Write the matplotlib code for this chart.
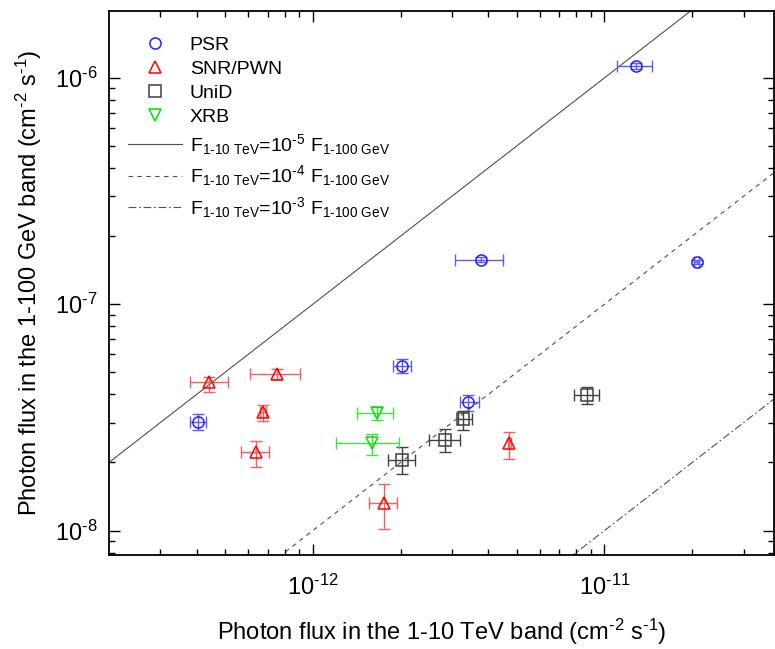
import numpy as np
import matplotlib
matplotlib.use("Agg")
import matplotlib.pyplot as plt
from matplotlib.ticker import FixedLocator, NullFormatter

plt.rcParams["font.family"] = ["Liberation Sans", "DejaVu Sans"]
plt.rcParams["mathtext.fontset"] = "custom"
plt.rcParams["mathtext.rm"] = "Liberation Sans"
plt.rcParams["mathtext.it"] = "Liberation Sans:italic"
plt.rcParams["mathtext.bf"] = "Liberation Sans:bold"
plt.rcParams["axes.unicode_minus"] = False

# ---- data: (TeV flux, TeV low, TeV high, GeV flux, GeV low, GeV high) ----
psr_x = [1.28e-11, 3.775e-12, 2.07e-11, 2.02e-12, 3.40e-12, 4.05e-13]
psr_xlo = [1.106e-11, 3.07e-12, 2.03e-11, 1.88e-12, 3.20e-12, 3.80e-13]
psr_xhi = [1.452e-11, 4.50e-12, 2.11e-11, 2.17e-12, 3.72e-12, 4.31e-13]
psr_y = [1.127e-6, 1.575e-7, 1.537e-7, 5.32e-8, 3.70e-8, 3.02e-8]
psr_ylo = [1.09e-6, 1.54e-7, 1.50e-7, 4.97e-8, 3.38e-8, 2.78e-8]
psr_yhi = [1.165e-6, 1.61e-7, 1.575e-7, 5.70e-8, 3.96e-8, 3.26e-8]

snr_x = [4.42e-13, 7.56e-13, 6.76e-13, 6.38e-13, 1.755e-12, 4.72e-12]
snr_xlo = [3.80e-13, 6.07e-13, 6.60e-13, 5.67e-13, 1.563e-12, 4.66e-12]
snr_xhi = [5.10e-13, 9.05e-13, 6.92e-13, 7.10e-13, 1.94e-12, 4.78e-12]
snr_y = [4.54e-8, 4.94e-8, 3.35e-8, 2.23e-8, 1.318e-8, 2.43e-8]
snr_ylo = [4.10e-8, 4.65e-8, 3.04e-8, 1.91e-8, 1.02e-8, 2.07e-8]
snr_yhi = [4.78e-8, 5.20e-8, 3.58e-8, 2.49e-8, 1.60e-8, 2.73e-8]

unid_x = [2.02e-12, 2.85e-12, 3.28e-12, 8.69e-12]
unid_xlo = [1.81e-12, 2.51e-12, 3.155e-12, 7.86e-12]
unid_xhi = [2.24e-12, 3.20e-12, 3.51e-12, 9.60e-12]
unid_y = [2.05e-8, 2.51e-8, 3.10e-8, 3.96e-8]
unid_ylo = [1.776e-8, 2.22e-8, 2.78e-8, 3.64e-8]
unid_yhi = [2.33e-8, 2.80e-8, 3.38e-8, 4.29e-8]

xrb_x = [1.657e-12, 1.593e-12]
xrb_xlo = [1.415e-12, 1.199e-12]
xrb_xhi = [1.89e-12, 1.98e-12]
xrb_y = [3.31e-8, 2.43e-8]
xrb_ylo = [3.07e-8, 2.155e-8]
xrb_yhi = [3.52e-8, 2.67e-8]

ratios = [1e-5, 1e-4, 1e-3]
ratio_exp = ["-5", "-4", "-3"]
ratio_ls = ["-", (0, (4, 4)), (0, (7, 2.5, 1.5, 2.5))]

XLIM = (2.0e-13, 3.81e-11)
YLIM = (7.8e-9, 1.97e-6)
XMAJOR = [1e-12, 1e-11]
YMAJOR = [1e-8, 1e-7, 1e-6]

fig = plt.figure(figsize=(7.75, 6.49), dpi=100)
ax = fig.add_axes([0.1406, 0.1448, 0.858, 0.838])


def plot_group(x, xlo, xhi, y, ylo, yhi, marker, col, ecol, label):
    x, y = np.array(x), np.array(y)
    xerr = np.vstack([x - np.array(xlo), np.array(xhi) - x])
    yerr = np.vstack([y - np.array(ylo), np.array(yhi) - y])
    ax.errorbar(x, y, xerr=xerr, yerr=yerr, fmt="none", ecolor=ecol,
                elinewidth=1.0, capsize=4.5, capthick=1.0, zorder=3)
    ax.plot(x, y, ls="none", marker=marker, ms=8, mfc="none", mec=col,
            mew=1.1, zorder=4, label=label)


plot_group(psr_x, psr_xlo, psr_xhi, psr_y, psr_ylo, psr_yhi,
           "o", "#2020ff", "#5a5aff", "PSR")
plot_group(snr_x, snr_xlo, snr_xhi, snr_y, snr_ylo, snr_yhi,
           "^", "#ff0000", "#ff5a5a", "SNR/PWN")
plot_group(unid_x, unid_xlo, unid_xhi, unid_y, unid_ylo, unid_yhi,
           "s", "#404040", "#404040", "UniD")
plot_group(xrb_x, xrb_xlo, xrb_xhi, xrb_y, xrb_ylo, xrb_yhi,
           "v", "#00e000", "#40e040", "XRB")

xx = np.array([XLIM[0], XLIM[1]])
for r, e, ls in zip(ratios, ratio_exp, ratio_ls):
    lab = (r"F$_{\text{1-10 TeV}}$=10$^{\text{%s}}$ F$_{\text{1-100 GeV}}$" % e)
    ax.plot(xx, xx / r, color="#505050", lw=0.8, ls=ls, zorder=2, label=lab)

ax.set_xscale("log")
ax.set_yscale("log")
ax.set_xlim(*XLIM)
ax.set_ylim(*YLIM)
ax.xaxis.set_major_locator(FixedLocator(XMAJOR))
ax.yaxis.set_major_locator(FixedLocator(YMAJOR))
ax.set_xticklabels([r"10$^{\text{-12}}$", r"10$^{\text{-11}}$"])
ax.set_yticklabels([r"10$^{\text{-8}}$", r"10$^{\text{-7}}$", r"10$^{\text{-6}}$"])
xminor = [m * 10.0 ** d for d in (-13, -12, -11) for m in range(2, 10)]
yminor = [m * 10.0 ** d for d in (-9, -8, -7, -6) for m in range(2, 10)]
ax.xaxis.set_minor_locator(FixedLocator([v for v in xminor if XLIM[0] < v < XLIM[1]]))
ax.yaxis.set_minor_locator(FixedLocator([v for v in yminor if YLIM[0] < v < YLIM[1]]))
ax.xaxis.set_minor_formatter(NullFormatter())
ax.yaxis.set_minor_formatter(NullFormatter())
ax.tick_params(which="both", direction="in", top=True, right=True,
               labelsize=17, width=1.0)
ax.tick_params(axis="x", pad=14)
ax.tick_params(axis="y", pad=8)
ax.tick_params(which="major", length=8)
ax.tick_params(which="minor", length=4)
for s in ax.spines.values():
    s.set_linewidth(1.3)

ax.set_xlabel(r"Photon flux in the 1-10 TeV band (cm$^{\text{-2}}$ s$^{\text{-1}}$)",
              fontsize=17, labelpad=12)
ax.set_ylabel(r"Photon flux in the 1-100 GeV band (cm$^{\text{-2}}$ s$^{\text{-1}}$)",
              fontsize=17, labelpad=8)

ax.legend(loc="upper left", bbox_to_anchor=(0.0, 0.99), frameon=False,
          fontsize=14, handlelength=2.75, handletextpad=0.4,
          labelspacing=0.33, borderaxespad=0.6)

fig.savefig("out.png", dpi=100, facecolor="white")
